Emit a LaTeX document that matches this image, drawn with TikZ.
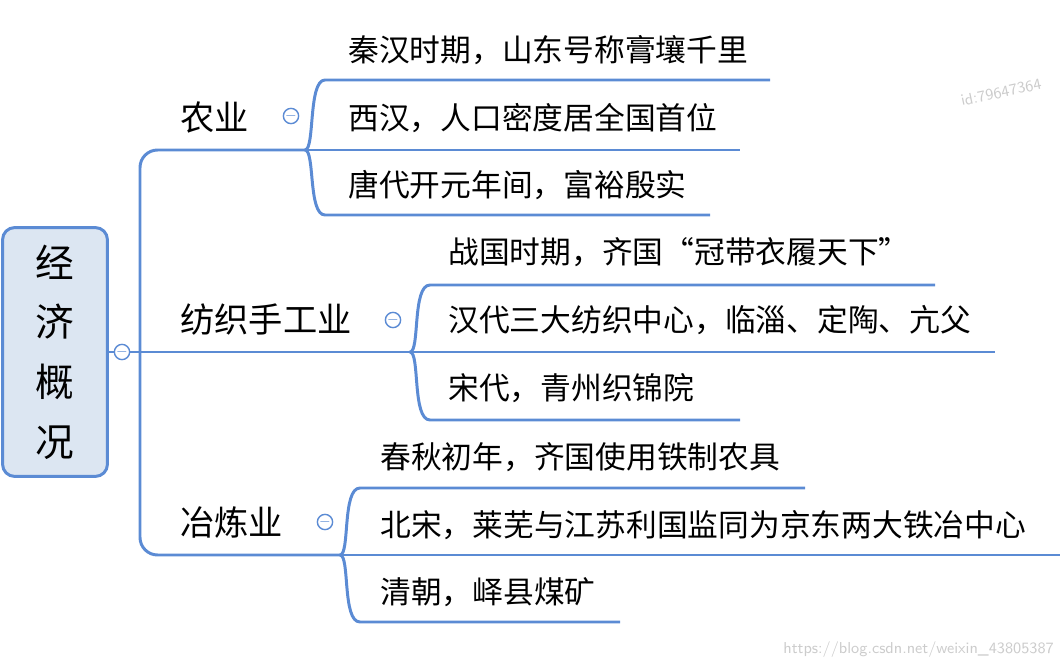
\documentclass[tikz,border=0pt]{standalone}
\usepackage{fontspec}
\newfontfamily\cjk{Noto Sans CJK SC}
\definecolor{ln}{HTML}{5B8BD4}
\definecolor{rootfill}{HTML}{DCE6F2}
\begin{document}
\begin{tikzpicture}[x=0.02cm,y=-0.02cm,
  br/.style={draw=ln,line width=1.7pt,rounded corners=10pt},
  lf/.style={anchor=west,font=\cjk\fontsize{17.5}{20}\selectfont,inner sep=0pt},
  mn/.style={anchor=west,font=\cjk\fontsize{19.5}{22}\selectfont,inner sep=0pt},
  col/.style={circle,draw=ln,fill=white,line width=0.8pt,minimum size=0.3cm,inner sep=0pt,font=\sffamily\footnotesize,text=ln}]
\clip (0,0) rectangle (1064,665);
\useasboundingbox (0,0) rectangle (1064,665);
% root
\node[draw=ln,line width=1.7pt,fill=rootfill,rounded corners=7pt,minimum width=2.1cm,minimum height=4.98cm,align=center,font=\cjk\fontsize{22}{34}\selectfont] (root) at (55,352) {经\\济\\概\\况};
% trunk
\coordinate (t0) at (140,352);
\draw[br] (root.east) -- (t0);
\draw[br] (305,150) -- (140,150) -- (140,555) -- (340,555);
\draw[br] (140,352) -- (410,352);
\node[col] (c0) at (122,352) {$-$};
% main labels
\node[mn] (ny) at (180,117) {农业};
\node[mn] (fz) at (180,320) {纺织手工业};
\node[mn] (yl) at (180,522) {冶炼业};
\node[col] (c1) at (291,116) {$-$};
\node[col] (c2) at (393,320) {$-$};
\node[col] (c3) at (325,522) {$-$};
% bracket 1
\draw[br] (305,150) -- (740,150);
\draw[line width=1.7pt,draw=ln] (305,150) .. controls (315,150) and (308,80) .. (325,80) -- (770,80);
\draw[line width=1.7pt,draw=ln] (305,150) .. controls (315,150) and (308,215) .. (325,215) -- (710,215);
% bracket 2
\draw[br] (410,352) -- (995,352);
\draw[line width=1.7pt,draw=ln] (410,352) .. controls (420,352) and (412,285) .. (430,285) -- (935,285);
\draw[line width=1.7pt,draw=ln] (410,352) .. controls (420,352) and (412,420) .. (430,420) -- (740,420);
% bracket 3
\draw[br] (340,555) -- (1060,555);
\draw[line width=1.7pt,draw=ln] (340,555) .. controls (350,555) and (342,488) .. (360,488) -- (805,488);
\draw[line width=1.7pt,draw=ln] (340,555) .. controls (350,555) and (342,622) .. (360,622) -- (620,622);
% leaves
\node[lf] (a1) at (348,50) {秦汉时期，山东号称膏壤千里};
\node[lf] (a2) at (348,118) {西汉，人口密度居全国首位};
\node[lf] (a3) at (348,185) {唐代开元年间，富裕殷实};
\node[lf] (b1) at (448,252) {战国时期，齐国“冠带衣履天下”};
\node[lf] (b2) at (448,320) {汉代三大纺织中心，临淄、定陶、亢父};
\node[lf] (b3) at (448,388) {宋代，青州织锦院};
\node[lf] (d1) at (380,457) {春秋初年，齐国使用铁制农具};
\node[lf] (d2) at (380,525) {北宋，莱芜与江苏利国监同为京东两大铁冶中心};
\node[lf] (d3) at (380,592) {清朝，峄县煤矿};
% watermarks
\node[anchor=west,rotate=12,text=black!20,font=\sffamily\small] (w1) at (955,102) {id:79647364};
\node[anchor=east,text=black!20,font=\sffamily\small] (w2) at (1060,650) {https://blog.csdn.net/weixin\_43805387};
\end{tikzpicture}
\end{document}
